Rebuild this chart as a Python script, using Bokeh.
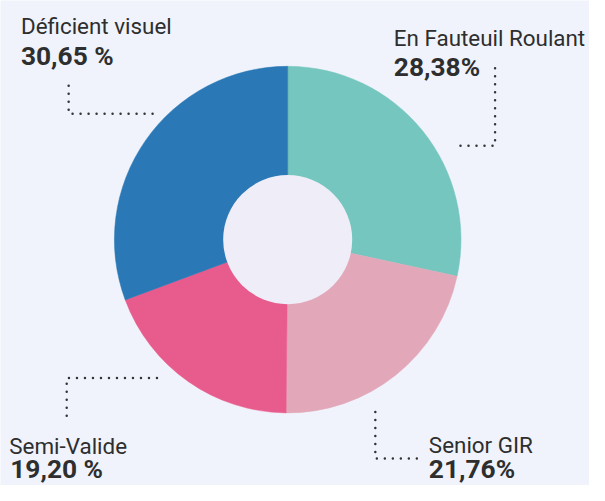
from bokeh.plotting import figure
from bokeh.models import Range1d, ColumnDataSource
from bokeh.core.properties import value
from bokeh.embed import file_html
from bokeh.resources import INLINE
import math

# ---- data ----
categories = ["En Fauteuil Roulant", "Senior GIR", "Semi-Valide", "Déficient visuel"]
percents = [28.38, 21.76, 19.20, 30.65]
pct_labels = ["28,38%", "21,76%", "19,20 %", "30,65 %"]
colors = ["#74C6BE", "#E2A8B9", "#E85C8D", "#2A78B5"]

# ---- layout: data space = reference pixel space (605 x 501, y down) ----
W, H = 589, 485
RW, RH = 605, 501
def dx(X): return X
def dy(Y): return RH - Y

CX, CY = 295, 247
R_OUT, R_IN = 178, 66.3
BG = "#F0F3FB"
HOLE = "#EFEDF8"
TXT = "#2E2E2E"
NAME_SIZE, PCT_SIZE = 22.4, 26.3
NAME_SHIFT, PCT_SHIFT = 9.3, 10.9   # empirical baseline correction

label_pos = {  # (x_left, baseline_name, x_left_pct, baseline_pct)
    "Déficient visuel": (21, 36, 21, 68),
    "En Fauteuil Roulant": (404, 48, 404, 80),
    "Semi-Valide": (9, 469, 10, 495),
    "Senior GIR": (440, 468, 440, 495),
}
leaders = {
    "Déficient visuel": [(70, 88), (70, 117), (157, 117)],
    "En Fauteuil Roulant": [(508, 70), (508, 150), (465, 150)],
    "Semi-Valide": [(68, 429), (68, 390), (165, 390)],
    "Senior GIR": [(385, 425), (385, 473), (428, 473)],
}

p = figure(width=W, height=H, output_backend="svg", toolbar_location=None,
           x_range=Range1d(0, RW), y_range=Range1d(0, RH), min_border=0,
           background_fill_color=BG, border_fill_color=BG, outline_line_color=None)
p.axis.visible = False
p.grid.visible = False

total = sum(percents)
starts, ends = [], []
cum = 0.0
for v in percents:
    starts.append(math.pi / 2 - 2 * math.pi * cum / total)
    cum += v
    ends.append(math.pi / 2 - 2 * math.pi * cum / total)

src = ColumnDataSource(dict(x=[dx(CX)] * 4, y=[dy(CY)] * 4, start=starts, end=ends,
                            color=colors, cat=categories))
p.wedge(x="x", y="y", radius=R_OUT, start_angle="start", end_angle="end",
        direction="clock", fill_color="color", line_color="color", line_width=0.5, source=src)
p.circle(x=[dx(CX)], y=[dy(CY)], radius=R_IN, fill_color=HOLE, line_color=None)

for cat, lab in zip(categories, pct_labels):
    xl, b1, xl2, b2 = label_pos[cat]
    p.text(x=[dx(xl)], y=[dy(b1 - NAME_SHIFT)], text=[cat], text_font=value("Roboto"),
           text_font_size=f"{NAME_SIZE}px", text_color=TXT, text_baseline="alphabetic", text_align="left")
    p.text(x=[dx(xl2)], y=[dy(b2 - PCT_SHIFT)], text=[lab], text_font=value("Roboto"), text_font_style="bold",
           text_font_size=f"{PCT_SIZE}px", text_color=TXT, text_baseline="alphabetic", text_align="left")
    pts = leaders[cat]
    p.line(x=[dx(a) for a, b in pts], y=[dy(b) for a, b in pts], line_color="#333333",
           line_width=2.5, line_dash="0 8", line_cap="round")

html = file_html(p, INLINE)
html = html.replace("<body>", '<body style="background:%s">' % BG, 1)
open("out.html", "w").write(html)
